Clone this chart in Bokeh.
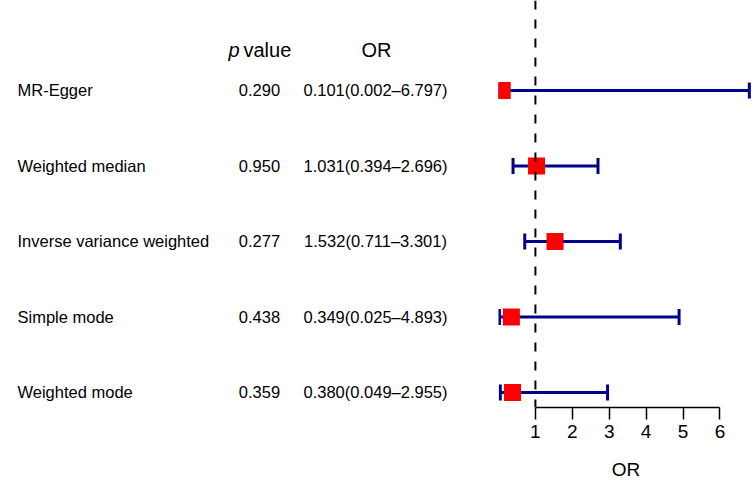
from bokeh.plotting import figure
from bokeh.layouts import row
from bokeh.models import Range1d, FixedTicker, ColumnDataSource, Span
from bokeh.core.properties import value
from bokeh.embed import file_html
from bokeh.resources import INLINE

# Mendelian randomisation estimates (odds ratios with 95% CI)
methods = ["MR-Egger", "Weighted median", "Inverse variance weighted",
           "Simple mode", "Weighted mode"]
p_values = [0.290, 0.950, 0.277, 0.438, 0.359]
or_est = [0.101, 1.031, 1.532, 0.349, 0.380]
or_low = [0.002, 0.394, 0.711, 0.025, 0.049]
or_high = [6.797, 2.696, 3.301, 4.893, 2.955]
or_ticks = [1, 2, 3, 4, 5, 6]
null_or = 1

FONT = value("Liberation Sans")
rows = list(range(len(methods), 0, -1))

src = ColumnDataSource(dict(
    method=methods,
    p=[f"{v:.3f}" for v in p_values],
    ci=[f"{e:.3f}({l:.3f}\u2013{h:.3f})" for e, l, h in zip(or_est, or_low, or_high)],
    est=or_est, lo=or_low, hi=or_high, y=rows,
))

yr = Range1d(0.801, 6.192)
common = dict(height=489, y_range=yr, output_backend="svg", toolbar_location=None,
              min_border_top=0, min_border_bottom=82, min_border_left=0,
              min_border_right=0, outline_line_color=None, background_fill_color="white",
              border_fill_color="white")

# ---- left: text table ----
tbl = figure(width=498, x_range=Range1d(0, 498), x_axis_type=None, y_axis_type=None, **common)
tbl.grid.visible = False
tbl.text(x=17, y="y", text="method", source=src, text_font=FONT, text_font_size="16.5px",
         text_align="left", text_baseline="middle", text_color="black")
tbl.text(x=259, y="y", text="p", source=src, text_font=FONT, text_font_size="16.5px",
         text_align="center", text_baseline="middle", text_color="black")
tbl.text(x=375, y="y", text="ci", source=src, text_font=FONT, text_font_size="16.5px",
         text_align="center", text_baseline="middle", text_color="black")
hdr_y = 5.53
tbl.text(x=[228], y=[hdr_y], text=["p"], text_font=FONT, text_font_size="20px",
         text_font_style="italic", text_align="left", text_baseline="middle", text_color="black")
tbl.text(x=[243], y=[hdr_y], text=["value"], text_font=FONT, text_font_size="20px",
         text_align="left", text_baseline="middle", text_color="black")
tbl.text(x=[376], y=[hdr_y], text=["OR"], text_font=FONT, text_font_size="20px",
         text_align="center", text_baseline="middle", text_color="black")

# ---- right: forest plot ----
fp = figure(width=255, x_range=Range1d(0, 6.91), y_axis_type=None, **common)
fp.grid.visible = False

fp.segment(x0="lo", x1="hi", y0="y", y1="y", source=src, line_color="#00008B", line_width=3)
fp.scatter(x="lo", y="y", source=src, marker="dash", angle=1.5708, size=16,
           line_color="#00008B", line_width=3)
fp.scatter(x="hi", y="y", source=src, marker="dash", angle=1.5708, size=16,
           line_color="#00008B", line_width=3)
fp.add_layout(Span(location=null_or, dimension="height", line_color="black",
                   line_width=2, line_dash="9 10"))
fp.scatter(x="est", y="y", source=src, marker="square", size=17,
           fill_color="#FF0000", line_color=None)

ax = fp.xaxis[0]
ax.ticker = FixedTicker(ticks=or_ticks)
ax.bounds = (1, 6)
ax.axis_line_color = "black"
ax.axis_line_width = 1.5
ax.major_tick_line_color = "black"
ax.major_tick_line_width = 1.5
ax.major_tick_in = 0
ax.major_tick_out = 12
ax.minor_tick_line_color = None
ax.major_label_text_font = "Liberation Sans"
ax.major_label_text_font_size = "19px"
ax.major_label_text_color = "black"
ax.major_label_standoff = 5
ax.axis_label = "OR"
ax.axis_label_text_font = "Liberation Sans"
ax.axis_label_text_font_size = "19px"
ax.axis_label_text_font_style = "normal"
ax.axis_label_text_color = "black"
ax.axis_label_standoff = 18

layout = row(tbl, fp, spacing=0)
open("out.html", "w").write(file_html(layout, INLINE))
